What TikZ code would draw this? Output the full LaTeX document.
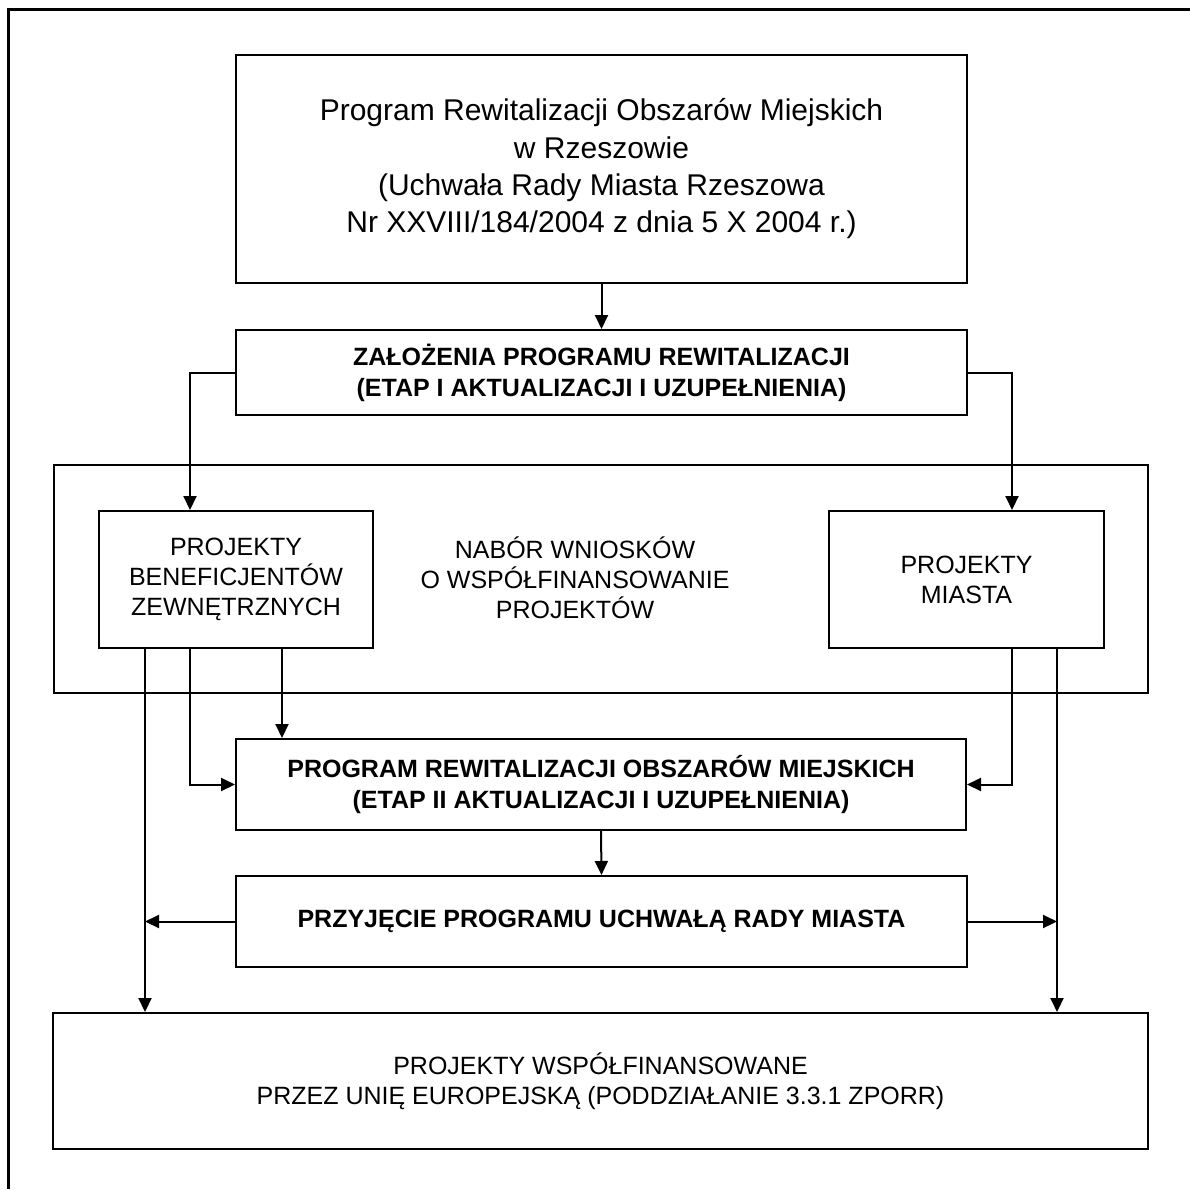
\documentclass[tikz,border=0pt]{standalone}
\usepackage{fontspec}
\setmainfont{Liberation Sans}
\usetikzlibrary{arrows.meta}
\begin{document}
\begin{tikzpicture}[x=1pt,y=-1pt,
  boxnode/.style={draw, line width=2pt, inner sep=0pt, align=center,
    font=\fontsize{25}{30}\selectfont},
  boldbox/.style={boxnode, font=\fontsize{25}{31}\selectfont\bfseries},
  plaintext/.style={inner sep=0pt, align=center, font=\fontsize{25}{30}\selectfont},
  arr/.style={line width=2pt, -{Triangle[length=14pt,width=13pt]}}]
\useasboundingbox (0,0) rectangle (1190,1189);
\fill[white] (0,0) rectangle (1190,1189);
% outer frame (top and left edges only)
\draw[line width=3pt] (8,1189) -- (8,9) -- (1190,9);

\node[boxnode, minimum width=731pt, minimum height=228pt,
  font=\fontsize{30}{37.3}\selectfont] (top) at (601.5,169)
  {Program Rewitalizacji Obszarów Miejskich\\ w Rzeszowie\\ (Uchwała Rady Miasta Rzeszowa\\ Nr XXVIII/184/2004 z dnia 5 X 2004 r.)};
\node[boldbox, minimum width=731pt, minimum height=85pt] (zal) at (601.5,372.5)
  {ZAŁOŻENIA PROGRAMU REWITALIZACJI\\ (ETAP I AKTUALIZACJI I UZUPEŁNIENIA)};
\node[boxnode, minimum width=1094pt, minimum height=228pt] (group) at (601,579) {};
\node[boxnode, minimum width=274pt, minimum height=137pt] (benef) at (236,579.5)
  {PROJEKTY\\ BENEFICJENTÓW\\ ZEWNĘTRZNYCH};
\node[boxnode, minimum width=275pt, minimum height=137pt] (miasta) at (966.5,579.5)
  {PROJEKTY\\ MIASTA};
\node[plaintext] (nabor) at (575,578)
  {NABÓR WNIOSKÓW\\ O WSPÓŁFINANSOWANIE\\ PROJEKTÓW};
\node[boldbox, minimum width=730pt, minimum height=91pt] (prog) at (601,784.5)
  {PROGRAM REWITALIZACJI OBSZARÓW MIEJSKICH\\ (ETAP II AKTUALIZACJI I UZUPEŁNIENIA)};
\node[boldbox, minimum width=731pt, minimum height=91pt] (przyj) at (601.5,921.5)
  {PRZYJĘCIE PROGRAMU UCHWAŁĄ RADY MIASTA};
\node[boxnode, minimum width=1095pt, minimum height=136pt] (bottom) at (600.5,1081)
  {PROJEKTY WSPÓŁFINANSOWANE\\ PRZEZ UNIĘ EUROPEJSKĄ (PODDZIAŁANIE 3.3.1 ZPORR)};

\coordinate (xa) at (145,0);
\coordinate (xb) at (190,0);
\coordinate (xc) at (282,0);
\coordinate (xd) at (1012,0);
\coordinate (xe) at (1057,0);

\draw[arr] (top.south) -- (zal.north);
\draw[arr] (zal.west) -| (xb |- benef.north);
\draw[arr] (zal.east) -| (xd |- miasta.north);
\draw[arr] (xc |- benef.south) -- (xc |- prog.north);
\draw[arr] (xb |- benef.south) |- (prog.west);
\draw[arr] (xa |- benef.south) -- (xa |- bottom.north);
\draw[arr] (xd |- miasta.south) |- (prog.east);
\draw[arr] (xe |- miasta.south) -- (xe |- bottom.north);
\draw[arr] (prog.south) -- (przyj.north);
\draw[arr] (przyj.west) -- (xa |- przyj.west);
\draw[arr] (przyj.east) -- (xe |- przyj.east);
\end{tikzpicture}
\end{document}
